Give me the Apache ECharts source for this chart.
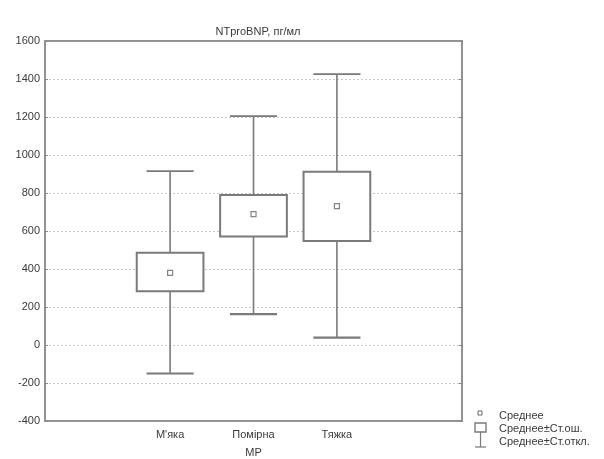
<!DOCTYPE html>
<html>
<head>
<meta charset="utf-8">
<script src="https://cdn.jsdelivr.net/npm/echarts@6/dist/echarts.min.js"></script>
<style>
html,body{margin:0;padding:0;background:#fff;}
#c{width:604px;height:459px;}
</style>
</head>
<body>
<div id="c"></div>
<script>
const categories = ['', "М'яка", 'Помірна', 'Тяжка', ' '];
const groupIndex = [1, 2, 3];
const means = [380, 689, 731];
const seLow = [283, 571, 548];
const seHigh = [485, 789, 912];
const sdLow = [-150, 162, 39];
const sdHigh = [915, 1205, 1426];
const yTicks = { min: -400, max: 1600, interval: 200 };

const FONT = '"Liberation Sans", Arial, sans-serif';
const GRAY = '#7a7a7a';
const TXT = '#3a3a3a';

const boxData = groupIndex.map((g, i) => [g, sdLow[i], seLow[i], means[i], seHigh[i], sdHigh[i]]);
const meanData = groupIndex.map((g, i) => [g, means[i]]);

function renderItem(params, api) {
  const x = api.value(0);
  const lo = api.coord([x, api.value(1)]);
  const q1 = api.coord([x, api.value(2)]);
  const q3 = api.coord([x, api.value(4)]);
  const hi = api.coord([x, api.value(5)]);
  const band = api.size([1, 0])[0];
  const bw = band * 0.8;
  const cw = band * 0.565;
  const cx = lo[0];
  const ls = { stroke: GRAY, lineWidth: 1.6 };
  return {
    type: 'group',
    children: [
      { type: 'line', shape: { x1: cx, y1: hi[1], x2: cx, y2: lo[1] }, style: ls },
      { type: 'line', shape: { x1: cx - cw / 2, y1: hi[1], x2: cx + cw / 2, y2: hi[1] }, style: { stroke: GRAY, lineWidth: 1.8 } },
      { type: 'line', shape: { x1: cx - cw / 2, y1: lo[1], x2: cx + cw / 2, y2: lo[1] }, style: { stroke: GRAY, lineWidth: 2.2 } },
      { type: 'rect', shape: { x: cx - bw / 2, y: q3[1], width: bw, height: q1[1] - q3[1] }, style: { fill: '#fff', stroke: GRAY, lineWidth: 2 } }
    ]
  };
}

const chart = echarts.init(document.getElementById('c'), null, { renderer: 'canvas' });
chart.setOption({
  animation: false,
  backgroundColor: '#fff',
  textStyle: { fontFamily: FONT },
  title: {
    text: 'NTproBNP, пг/мл',
    left: 253, top: 21, textAlign: 'center',
    textStyle: { fontFamily: FONT, fontSize: 11, fontWeight: 'normal', color: TXT }
  },
  grid: { left: 45, top: 41, width: 417, height: 380, show: true, borderColor: '#8a8a8a', borderWidth: 1.5, containLabel: false, outerBoundsMode: 'none' },
  xAxis: [{
    type: 'category', data: categories, boundaryGap: true,
    axisLine: { onZero: false, lineStyle: { color: '#8a8a8a', width: 1.5 } },
    axisTick: { alignWithLabel: true, inside: true, length: 3, lineStyle: { color: '#8a8a8a' } },
    axisLabel: { color: TXT, fontSize: 11, fontFamily: FONT, margin: 8 },
    name: 'МР', nameLocation: 'middle', nameGap: 26,
    nameTextStyle: { color: TXT, fontSize: 11, fontFamily: FONT }
  }, {
    type: 'category', data: categories, boundaryGap: true, position: 'top',
    axisLine: { onZero: false, lineStyle: { color: '#8a8a8a', width: 1.5 } },
    axisTick: { alignWithLabel: true, inside: true, length: 3, lineStyle: { color: '#8a8a8a' } },
    axisLabel: { show: false }
  }],
  yAxis: [{
    type: 'value', min: yTicks.min, max: yTicks.max, interval: yTicks.interval,
    axisLine: { show: true, onZero: false, lineStyle: { color: '#8a8a8a', width: 1.5 } },
    axisTick: { show: true, inside: true, length: 3, lineStyle: { color: '#8a8a8a' } },
    axisLabel: { color: TXT, fontSize: 11, fontFamily: FONT, margin: 5, formatter: v => String(v) },
    splitLine: { show: true, lineStyle: { color: '#c8c8c8', type: [2, 2], width: 1 } }
  }, {
    type: 'value', min: yTicks.min, max: yTicks.max, interval: yTicks.interval, position: 'right',
    axisLine: { show: true, onZero: false, lineStyle: { color: '#8a8a8a', width: 1.5 } },
    axisTick: { show: true, inside: true, length: 3, lineStyle: { color: '#8a8a8a' } },
    axisLabel: { show: false }, splitLine: { show: false }
  }],
  series: [{
    name: 'Среднее±Ст.откл.',
    type: 'custom', renderItem: renderItem, data: boxData,
    encode: { x: 0, y: [1, 2, 3, 4, 5] }, z: 2
  }, {
    name: 'Среднее', type: 'scatter', data: meanData, symbol: 'rect', symbolSize: 5,
    itemStyle: { color: '#fff', borderColor: '#666', borderWidth: 1.2 }, z: 5
  }],
  graphic: [
    { type: 'rect', shape: { x: 478, y: 411, width: 4, height: 4 }, style: { fill: '#fff', stroke: '#666', lineWidth: 1 } },
    { type: 'rect', shape: { x: 475, y: 423, width: 11, height: 9 }, style: { fill: '#fff', stroke: GRAY, lineWidth: 1.4 } },
    { type: 'line', shape: { x1: 480.5, y1: 432, x2: 480.5, y2: 447 }, style: { stroke: GRAY, lineWidth: 1.2 } },
    { type: 'line', shape: { x1: 475, y1: 447, x2: 486, y2: 447 }, style: { stroke: GRAY, lineWidth: 1.2 } },
    { type: 'text', left: 499, top: 410, style: { text: 'Среднее', fill: TXT, font: '11px ' + FONT } },
    { type: 'text', left: 499, top: 423, style: { text: 'Среднее±Ст.ош.', fill: TXT, font: '11px ' + FONT } },
    { type: 'text', left: 499, top: 436, style: { text: 'Среднее±Ст.откл.', fill: TXT, font: '11px ' + FONT } }
  ]
});
</script>
</body>
</html>
